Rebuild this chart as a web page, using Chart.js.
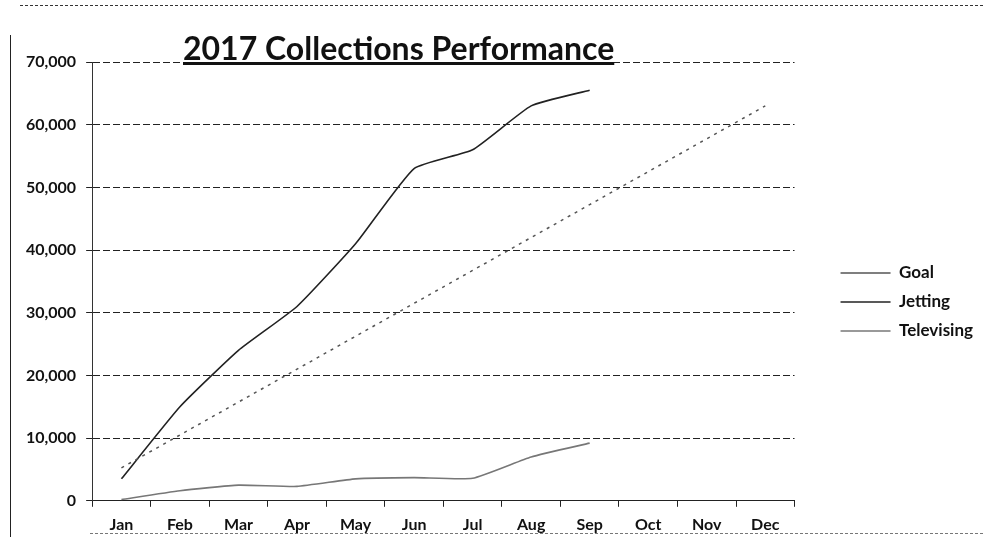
<!DOCTYPE html>
<html>
<head>
<meta charset="utf-8">
<script src="https://cdn.jsdelivr.net/npm/chart.js@4.4.0/dist/chart.umd.min.js"></script>
<style>
  html, body { margin: 0; padding: 0; background: #fff; }
  #wrap { position: relative; width: 983px; height: 537px; overflow: hidden; }
  #chart { position: absolute; left: 0; top: 0; }
  #title {
    position: absolute; left: 183px; top: 28px;
    font-family: Lato, "Open Sans", sans-serif; font-weight: bold; font-size: 32px;
    color: #111; text-decoration: underline; text-underline-offset: 2px; white-space: nowrap;
  }
  .edge-top { position: absolute; left: 20px; top: 5px; width: 963px; border-top: 1px dashed #333; }
  .edge-left { position: absolute; left: 10px; top: 35px; height: 502px; border-left: 1px solid #222; }
  .edge-bottom { position: absolute; left: 90px; top: 533px; width: 893px; border-top: 1px dashed #777; }
</style>
</head>
<body>
<div id="wrap">
  <div class="edge-top"></div>
  <div class="edge-left"></div>
  <div class="edge-bottom"></div>
  <canvas id="chart" width="983" height="537"></canvas>
  <div id="title">2017 Collections Performance</div>
</div>
<script>
const months = ['Jan', 'Feb', 'Mar', 'Apr', 'May', 'Jun', 'Jul', 'Aug', 'Sep', 'Oct', 'Nov', 'Dec'];
const goal = [5250, 10500, 15750, 21000, 26250, 31500, 36750, 42000, 47250, 52500, 57750, 63000];
const jetting = [3500, 15000, 24000, 31000, 41000, 53000, 56000, 63000, 65500];
const televising = [200, 1600, 2500, 2300, 3500, 3700, 3600, 7000, 9200];
const yTicks = [0, 10000, 20000, 30000, 40000, 50000, 60000, 70000];

const fontFamily = 'Lato, "Open Sans", sans-serif';

document.addEventListener('DOMContentLoaded', function () {
    const ctx = document.getElementById('chart').getContext('2d');

    new Chart(ctx, {
        type: 'line',
        data: {
            labels: months,
            datasets: [
                {
                    label: 'Goal',
                    data: goal,
                    borderColor: '#555',
                    borderWidth: 1.5,
                    borderDash: [3, 5],
                    pointRadius: 0,
                    tension: 0
                },
                {
                    label: 'Jetting',
                    data: jetting,
                    borderColor: '#222',
                    borderWidth: 1.6,
                    pointRadius: 0,
                    tension: 0.15
                },
                {
                    label: 'Televising',
                    data: televising,
                    borderColor: '#777',
                    borderWidth: 1.6,
                    pointRadius: 0,
                    tension: 0.15
                }
            ]
        },
        options: {
            responsive: false,
            animation: false,
            layout: {
                padding: { top: 62, left: 16, right: 0, bottom: -5 }
            },
            scales: {
                x: {
                    offset: true,
                    grid: {
                        offset: true,
                        drawOnChartArea: false,
                        color: '#222',
                        tickLength: 6
                    },
                    border: { color: '#222', width: 1 },
                    ticks: {
                        color: '#111',
                        font: { family: fontFamily, size: 16, weight: 'bold' },
                        padding: 8
                    }
                },
                y: {
                    min: 0,
                    max: 70000,
                    afterBuildTicks: function (axis) {
                        axis.ticks = yTicks.map(v => ({ value: v }));
                    },
                    grid: {
                        color: '#222',
                        lineWidth: 1,
                        tickLength: 6
                    },
                    border: { color: '#333', width: 1, dash: [7, 3] },
                    ticks: {
                        color: '#111',
                        font: { family: fontFamily, size: 16, weight: 'bold' },
                        padding: 10,
                        callback: function (value) {
                            return value.toLocaleString('en-US');
                        }
                    }
                },
                // empty spacer between plot and legend
                gap: {
                    position: 'right',
                    grid: { display: false },
                    border: { display: false },
                    ticks: { display: false },
                    afterFit: function (scale) {
                        scale.width = 34;
                    }
                }
            },
            plugins: {
                title: { display: false },
                tooltip: { enabled: false },
                legend: {
                    position: 'right',
                    align: 'center',
                    labels: {
                        usePointStyle: true,
                        pointStyle: 'line',
                        pointStyleWidth: 50,
                        boxHeight: 4,
                        color: '#111',
                        padding: 12,
                        font: { family: fontFamily, size: 17, weight: 'bold' }
                    }
                }
            }
        }
    });
});
</script>
</body>
</html>
